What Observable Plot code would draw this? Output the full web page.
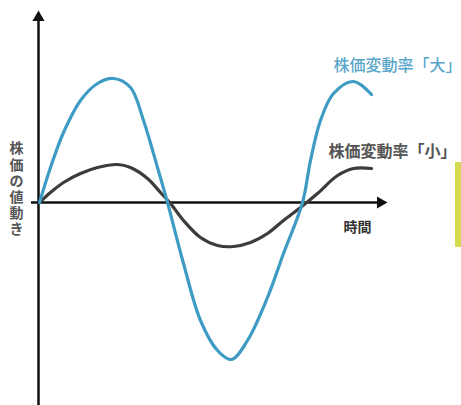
<!DOCTYPE html>
<html>
<head>
<meta charset="utf-8">
<script src="https://cdn.jsdelivr.net/npm/d3@7"></script>
<script src="https://cdn.jsdelivr.net/npm/@observablehq/plot@0.6"></script>
<style>
  html, body { margin: 0; padding: 0; background: #fff; }
  #wrap { position: relative; width: 461px; height: 405px; overflow: hidden; }
  #side { position: absolute; left: 455px; top: 162px; width: 7px; height: 85px; background: #d6da4e; }
</style>
</head>
<body>
<div id="wrap"><div id="side"></div></div>
<script>
// time axis (arbitrary units) and price movement values
const bigT = [0.1, 1.2, 2.5, 4.2, 5.9, 7.5, 9.2, 10.5, 11.9, 12.9, 14.5, 16.2, 17.9, 19.3, 20.9, 22.9, 24.5, 26.4, 27.2, 28.2, 29.5, 31.5, 33.3];
const bigV = [0, 3.5, 7.0, 10.2, 11.9, 12.4, 11.5, 8.2, 3.5, 0, -6.1, -11.8, -14.8, -15.7, -13.8, -9.5, -5.1, 0, 4.2, 8.2, 10.9, 12.1, 10.8];
const smallT = [0.1, 1.2, 2.5, 4.2, 5.9, 7.9, 9.2, 10.9, 12.2, 13.2, 14.5, 16.2, 17.9, 19.5, 21.2, 22.9, 24.5, 26.2, 27.9, 29.9, 31.5, 33.3];
const smallV = [0, 1.0, 2.0, 2.9, 3.5, 3.8, 3.5, 2.4, 1.0, -0.1, -1.8, -3.5, -4.3, -4.4, -4.0, -3.1, -1.8, -0.5, 0.9, 2.7, 3.4, 3.4];
const seriesNames = ["株価変動率「大」", "株価変動率「小」"];
const seriesColors = ["#3e9bc3", "#3f3b38"];
const labelColors = ["#5aa6ca", "#555555"];
const xTitle = "時間";
const yTitle = "株価の値動き";
const xDomain = [0, 34.9];
const yDomain = [-20.3, 19.2];

const big = bigT.map((t, i) => ({t, v: bigV[i]}));
const small = smallT.map((t, i) => ({t, v: smallV[i]}));
const font = "'Noto Sans CJK JP', 'Noto Sans', sans-serif";

const chart = Plot.plot({
  width: 461,
  height: 405,
  marginLeft: 38,
  marginRight: 74,
  marginTop: 10,
  marginBottom: 0,
  x: {domain: xDomain, axis: null},
  y: {domain: yDomain, axis: null},
  style: {fontFamily: font, background: "transparent", overflow: "visible"},
  marks: [
    // axes with arrowheads
    Plot.ruleX([xDomain[0]], {y1: yDomain[0], y2: yDomain[1], dy: 7, stroke: "#111", strokeWidth: 2.5}),
    Plot.dot([{t: xDomain[0], v: yDomain[1]}], {x: "t", y: "v", dy: 7, symbol: "triangle", r: 4.5, fill: "#111", stroke: "none"}),
    Plot.ruleY([0], {x1: xDomain[0], x2: xDomain[1], dx: -7, stroke: "#111", strokeWidth: 2.5}),
    Plot.dot([{t: xDomain[1], v: 0}], {x: "t", y: "v", dx: -7, symbol: "triangle", rotate: 90, r: 4.5, fill: "#111", stroke: "none"}),
    // series
    Plot.line(small, {x: "t", y: "v", curve: "catmull-rom", stroke: seriesColors[1], strokeWidth: 3.2}),
    Plot.line(big, {x: "t", y: "v", curve: "catmull-rom", stroke: seriesColors[0], strokeWidth: 3.2}),
    // series labels near the end of each line
    Plot.text([big[big.length - 1]], {x: "t", y: "v", text: () => seriesNames[0], dx: -38, dy: -29, textAnchor: "start", fill: labelColors[0], fontSize: 16, fontWeight: 500}),
    Plot.text([small[small.length - 1]], {x: "t", y: "v", text: () => seriesNames[1], dx: -43, dy: -17, textAnchor: "start", fill: labelColors[1], fontSize: 16, fontWeight: 700}),
    // axis titles
    Plot.text([xTitle], {x: xDomain[1], y: 0, dx: -30, dy: 25, fill: "#333", fontSize: 14, fontWeight: 700}),
    Plot.text([yTitle.split("").join("\n")], {x: xDomain[0], y: 0, dx: -22, dy: -14, lineHeight: 1.15, fill: "#555", fontSize: 14, fontWeight: 700})
  ]
});
document.getElementById("wrap").prepend(chart);
chart.style.position = "absolute";
chart.style.left = "0";
chart.style.top = "0";
</script>
</body>
</html>
